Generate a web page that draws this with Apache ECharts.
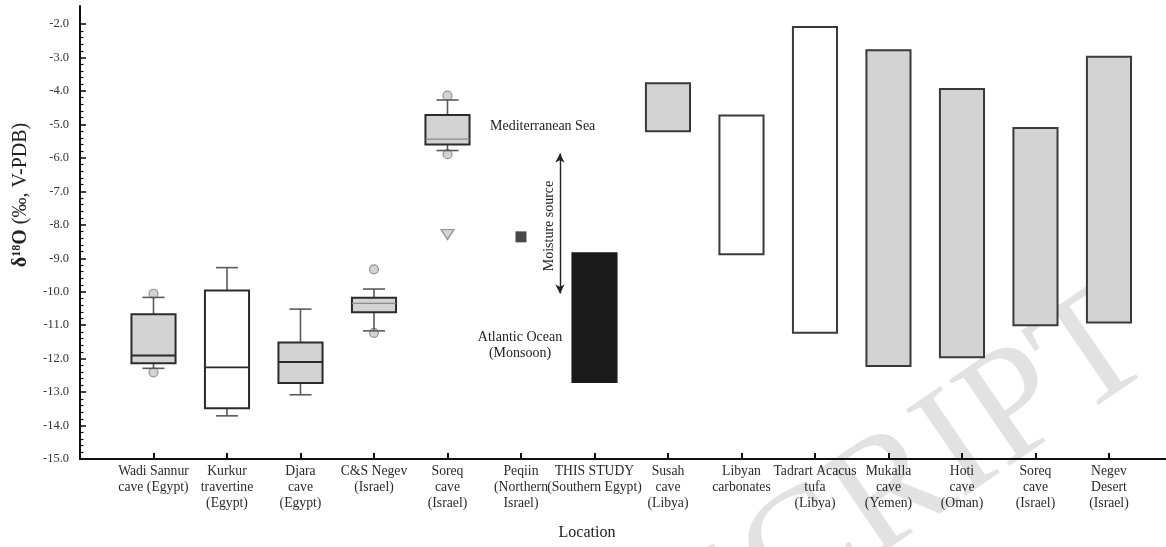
<!DOCTYPE html>
<html>
<head>
<meta charset="utf-8">
<script src="https://cdn.jsdelivr.net/npm/echarts@6/dist/echarts.min.js"></script>
<style>
  html, body { margin: 0; padding: 0; background: #fff; }
  #chart { width: 1166px; height: 547px; }
</style>
</head>
<body>
<div id="chart"></div>
<script>
// ---------------- DATA ----------------
const categories = [
  'Wadi Sannur\ncave (Egypt)',
  'Kurkur\ntravertine\n(Egypt)',
  'Djara\ncave\n(Egypt)',
  'C&S Negev\n(Israel)',
  'Soreq\ncave\n(Israel)',
  'Peqiin\n(Northern\nIsrael)',
  'THIS STUDY\n(Southern Egypt)',
  'Susah\ncave\n(Libya)',
  'Libyan\ncarbonates',
  'Tadrart Acacus\ntufa\n(Libya)',
  'Mukalla\ncave\n(Yemen)',
  'Hoti\ncave\n(Oman)',
  'Soreq\ncave\n(Israel)',
  'Negev\nDesert\n(Israel)'
];

// box plots: category position (1-based), [lower whisker, Q1, median, Q3, upper whisker]
const boxPositions = [1, 2, 3, 4, 5];
const boxStats = [
  [-12.29, -12.14, -11.91, -10.67, -10.17],
  [-13.71, -13.48, -12.26, -9.96, -9.28],
  [-13.08, -12.73, -12.10, -11.52, -10.52],
  [-11.17, -10.61, -10.35, -10.18, -9.92],
  [-5.78, -5.60, -5.44, -4.72, -4.27]
];

// outliers (circles)
const outlierPositions = [1, 1, 4, 4, 5, 5];
const outlierValues = [-10.06, -12.41, -9.33, -11.23, -4.14, -5.89];

// single values
const soreqTrianglePos = [5];
const soreqTriangleVal = [-8.29];
const peqiinPos = [6];
const peqiinVal = [-8.36];

// range bars: category position, upper value, lower value
const rangePositions = [7, 8, 9, 10, 11, 12, 13, 14];
const rangeHigh = [-8.85, -3.77, -4.73, -2.09, -2.78, -3.94, -5.11, -2.98];
const rangeLow = [-12.70, -5.20, -8.88, -11.23, -12.22, -11.96, -11.00, -10.92];

// moisture-source arrow (data coordinates)
const arrowX = 6.53;
const arrowTop = -5.87;
const arrowBottom = -10.05;

// y tick labels
const yTicks = [];
for (let v = -15; v <= -2; v++) yTicks.push(v);

// ---------------- STYLES ----------------
const FONT = "'Liberation Serif', 'Times New Roman', serif";
const GRAY = '#d3d3d3';
const boxFill = [GRAY, '#ffffff', GRAY, GRAY, GRAY];
const boxMedianColor = ['#2b2b2b', '#2b2b2b', '#2b2b2b', '#8a8a8a', '#8a8a8a'];
const boxMedianWidth = [2, 1.6, 2, 1.2, 1.2];
const rangeFill = ['#1a1a1a', GRAY, '#ffffff', '#ffffff', GRAY, GRAY, GRAY, GRAY];
const rangeStroke = ['#1a1a1a', '#3a3a3a', '#3a3a3a', '#3a3a3a', '#3a3a3a', '#3a3a3a', '#3a3a3a', '#3a3a3a'];
const BOX_W = 0.6;
const CAP_W = 0.3;

const minorTicks = [];
for (let k = 0; k <= 65; k++) {
  const v = -15 + k * 0.2;
  if (Math.abs(v - Math.round(v)) > 1e-6) minorTicks.push(+v.toFixed(1));
}
const xTickValues = categories.map((c, i) => i + 1);

const chart = echarts.init(document.getElementById('chart'), null, { renderer: 'canvas' });

function renderBox(params, api) {
  const i = params.dataIndex;
  const x = api.value(0);
  const lo = api.coord([x, api.value(1)]);
  const q1 = api.coord([x, api.value(2)]);
  const md = api.coord([x, api.value(3)]);
  const q3 = api.coord([x, api.value(4)]);
  const hi = api.coord([x, api.value(5)]);
  const unit = api.size([1, 0])[0];
  const cx = lo[0];
  const bw = unit * BOX_W;
  const cw = unit * CAP_W;
  const wStyle = { stroke: '#5a5a5a', lineWidth: 1.6 };
  return {
    type: 'group',
    children: [
      { type: 'line', shape: { x1: cx, y1: q3[1], x2: cx, y2: hi[1] }, style: wStyle },
      { type: 'line', shape: { x1: cx - cw / 2, y1: hi[1], x2: cx + cw / 2, y2: hi[1] }, style: wStyle },
      { type: 'line', shape: { x1: cx, y1: q1[1], x2: cx, y2: lo[1] }, style: wStyle },
      { type: 'line', shape: { x1: cx - cw / 2, y1: lo[1], x2: cx + cw / 2, y2: lo[1] }, style: wStyle },
      { type: 'rect', shape: { x: cx - bw / 2, y: q3[1], width: bw, height: q1[1] - q3[1] },
        style: { fill: boxFill[i], stroke: '#2b2b2b', lineWidth: 2 } },
      { type: 'line', shape: { x1: cx - bw / 2, y1: md[1], x2: cx + bw / 2, y2: md[1] },
        style: { stroke: boxMedianColor[i], lineWidth: boxMedianWidth[i] } }
    ]
  };
}

function renderRange(params, api) {
  const i = params.dataIndex;
  const x = api.value(0);
  const hi = api.coord([x, api.value(1)]);
  const lo = api.coord([x, api.value(2)]);
  const bw = api.size([1, 0])[0] * BOX_W;
  return {
    type: 'rect',
    shape: { x: hi[0] - bw / 2, y: hi[1], width: bw, height: lo[1] - hi[1] },
    style: { fill: rangeFill[i], stroke: rangeStroke[i], lineWidth: 2 }
  };
}

const option = {
  animation: false,
  backgroundColor: '#ffffff',
  textStyle: { fontFamily: FONT },
  grid: { left: 80, right: 0, top: 6, bottom: 88, containLabel: false },
  xAxis: {
    type: 'value',
    min: 0,
    max: 14.776,
    interval: 1,
    splitLine: { show: false },
    axisLine: { show: true, onZero: false, lineStyle: { color: '#111', width: 2 } },
    axisTick: { show: true, inside: true, length: 6, customValues: xTickValues, lineStyle: { color: '#111', width: 2 } },
    axisLabel: {
      show: true, customValues: xTickValues, margin: 5,
      fontFamily: FONT, fontSize: 13.7, lineHeight: 15.6, color: '#2a2a2a', align: 'center',
      formatter: v => categories[Math.round(v) - 1] || ''
    }
  },
  yAxis: [
    {
      type: 'value',
      min: -15,
      max: -1.46,
      interval: 1,
      splitLine: { show: false },
      axisLine: { show: true, onZero: false, lineStyle: { color: '#111', width: 2 } },
      axisTick: { show: true, inside: true, length: 6, customValues: yTicks, lineStyle: { color: '#111', width: 1.6 } },
      axisLabel: {
        show: true, customValues: yTicks, margin: 11,
        fontFamily: FONT, fontSize: 12.5, color: '#333',
        formatter: v => v.toFixed(1)
      }
    },
    {
      type: 'value',
      min: -15,
      max: -1.46,
      position: 'left',
      splitLine: { show: false },
      axisLine: { show: false },
      axisLabel: { show: false },
      axisTick: { show: true, inside: true, length: 3.5, customValues: minorTicks, lineStyle: { color: '#111', width: 1.2 } }
    }
  ],
  series: [
    {
      name: 'outliers',
      type: 'scatter',
      symbol: 'circle',
      symbolSize: 9,
      itemStyle: { color: '#c8c8c8', borderColor: '#808080', borderWidth: 1.2 },
      data: outlierPositions.map((p, i) => [p, outlierValues[i]]),
      z: 1
    },
    {
      name: 'boxes',
      type: 'custom',
      renderItem: renderBox,
      data: boxPositions.map((p, i) => [p].concat(boxStats[i])),
      z: 2
    },
    {
      name: 'ranges',
      type: 'custom',
      renderItem: renderRange,
      data: rangePositions.map((p, i) => [p, rangeHigh[i], rangeLow[i]]),
      z: 2
    },
    {
      name: 'Soreq single',
      type: 'scatter',
      symbol: 'triangle',
      symbolRotate: 180,
      symbolSize: [13, 10],
      itemStyle: { color: '#c8c8c8', borderColor: '#7a7a7a', borderWidth: 1.2 },
      data: soreqTrianglePos.map((p, i) => [p, soreqTriangleVal[i]]),
      z: 3
    },
    {
      name: 'Peqiin',
      type: 'scatter',
      symbol: 'rect',
      symbolSize: 11,
      itemStyle: { color: '#1a1a1a' },
      data: peqiinPos.map((p, i) => [p, peqiinVal[i]]),
      z: 3,
      markLine: {
        silent: true,
        symbol: ['arrow', 'arrow'],
        symbolSize: [7, 9],
        label: { show: false },
        lineStyle: { color: '#222', width: 1.4, type: 'solid' },
        data: [[{ coord: [arrowX, arrowTop] }, { coord: [arrowX, arrowBottom] }]]
      }
    }
  ],
  graphic: [
    {
      type: 'text', z: -10, silent: true,
      x: 1180, y: 395, rotation: 0.6,
      style: { text: 'ACCEPTED MANUSCRIPT', font: "160px 'Liberation Serif', serif", fill: '#e2e2e2', textAlign: 'right', textVerticalAlign: 'bottom' }
    },
    {
      type: 'text', x: 21, y: 195, rotation: Math.PI / 2,
      style: {
        text: '{b|δ}{s|18}{b|O} (‰, V-PDB)',
        font: "20px 'Liberation Serif', serif", fill: '#222',
        textAlign: 'center', textVerticalAlign: 'middle',
        rich: {
          b: { fontFamily: FONT, fontSize: 20, fontWeight: 'bold', fill: '#222' },
          s: { fontFamily: FONT, fontSize: 12, fontWeight: 'bold', fill: '#222', padding: [0, 0, 9, 0] }
        }
      }
    },
    {
      type: 'text', x: 587, y: 533,
      style: { text: 'Location', font: "16px 'Liberation Serif', serif", fill: '#222', textAlign: 'center', textVerticalAlign: 'middle' }
    },
    {
      type: 'text', x: 490, y: 126,
      style: { text: 'Mediterranean Sea', font: "14px 'Liberation Serif', serif", fill: '#222', textAlign: 'left', textVerticalAlign: 'middle' }
    },
    {
      type: 'text', x: 520, y: 345,
      style: { text: 'Atlantic Ocean\n(Monsoon)', font: "14px 'Liberation Serif', serif", lineHeight: 16, fill: '#222', textAlign: 'center', textVerticalAlign: 'middle' }
    },
    {
      type: 'text', x: 549, y: 226, rotation: Math.PI / 2,
      style: { text: 'Moisture source', font: "14px 'Liberation Serif', serif", fill: '#222', textAlign: 'center', textVerticalAlign: 'middle' }
    }
  ]
};
chart.setOption(option);
</script>
</body>
</html>
